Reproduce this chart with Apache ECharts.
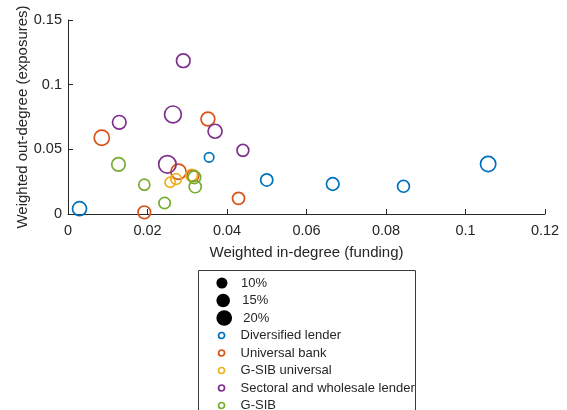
<!DOCTYPE html>
<html>
<head>
<meta charset="utf-8">
<script src="https://cdn.jsdelivr.net/npm/echarts@6/dist/echarts.min.js"></script>
<style>html,body{margin:0;padding:0;background:#fff;}#c{width:567px;height:410px;}</style>
</head>
<body>
<div id="c"></div>
<script>
// Categories and colours
const categories = ['Diversified lender', 'Universal bank', 'G-SIB universal', 'Sectoral and wholesale lender', 'G-SIB'];
const colors = ['#0072BD', '#D95319', '#EDB120', '#7E2F8E', '#77AC30'];
// Size legend entries (market share, %)
const sizeLabels = ['10%', '15%', '20%'];
const sizeValues = [10, 15, 20];
// Points: [weighted in-degree, weighted out-degree, share %]
const diversifiedLender = [[0.0029,0.0041,16],[0.0355,0.0438,7.4],[0.050,0.0263,12],[0.0666,0.0232,13],[0.0844,0.0214,11.5],[0.1057,0.0386,19]];
const universalBank = [[0.0085,0.059,19],[0.0352,0.0734,15.5],[0.0278,0.0327,19],[0.0314,0.0296,11.5],[0.0429,0.0121,12],[0.0192,0.0013,13]];
const gsibUniversal = [[0.0257,0.0245,8.5],[0.0272,0.027,9.5],[0.0311,0.030,11.5]];
const sectoralLender = [[0.029,0.1185,15],[0.0264,0.077,23],[0.0129,0.0709,15],[0.037,0.064,16],[0.044,0.0492,11.4],[0.025,0.0384,25]];
const gsib = [[0.0127,0.0384,15],[0.0192,0.0227,10],[0.0243,0.0085,10.5],[0.0318,0.0284,13],[0.032,0.0211,12]];
const groups = [diversifiedLender, universalBank, gsibUniversal, sectoralLender, gsib];
// Axis ticks
const xTicks = {min: 0, max: 0.12, interval: 0.02};
const yTicks = {min: 0, max: 0.15, interval: 0.05};

const K = 3.5;
const sizeOf = s => K * Math.sqrt(s);
const FONT = 'Liberation Sans';
const TXT = '#262626';

const series = [];
sizeLabels.forEach((n, i) => {
  series.push({name: n, type: 'scatter', data: [], itemStyle: {color: '#000', opacity: 1}});
});
groups.forEach((g, i) => {
  series.push({
    name: categories[i], type: 'scatter', data: g,
    symbol: 'circle',
    symbolSize: v => sizeOf(v[2]),
    itemStyle: {color: 'rgba(0,0,0,0)', borderColor: colors[i], borderWidth: 1.7, opacity: 1},
    emphasis: {disabled: true}
  });
});

const rowCenters = [283, 300.5, 318, 335.5, 353, 370.5, 388, 405.5];
const legends = [];
const ICON_CX = 221.7, TEXT_X = 240.7;
const iw = 2 * (TEXT_X - 5 - ICON_CX);
sizeLabels.forEach((n, i) => {
  const d = sizeOf(sizeValues[i]);
  legends.push({
    data: [{name: n, icon: 'circle', itemStyle: {color: '#000', opacity: 1}}],
    left: ICON_CX - iw / 2 + 8.7, top: rowCenters[i] - 8,
    itemWidth: iw, itemHeight: d, padding: 0, selectedMode: false,
    textStyle: {fontFamily: FONT, fontSize: 13, color: TXT, lineHeight: 16}
  });
});
categories.forEach((n, i) => {
  legends.push({
    data: [{name: n, icon: 'circle', itemStyle: {color: 'rgba(0,0,0,0)', borderColor: colors[i], borderWidth: 1.7, opacity: 1}}],
    left: ICON_CX - iw / 2 + 10, top: rowCenters[3 + i] - 8,
    itemWidth: iw, itemHeight: 6, padding: 0, selectedMode: false,
    textStyle: {fontFamily: FONT, fontSize: 13, color: TXT, lineHeight: 16}
  });
});

const chart = echarts.init(document.getElementById('c'), null, {renderer: 'canvas'});
chart.setOption({
  animation: false,
  backgroundColor: '#fff',
  grid: {left: 68, right: 22, top: 20, bottom: 196, containLabel: false},
  xAxis: {
    type: 'value', min: xTicks.min, max: xTicks.max, interval: xTicks.interval,
    name: 'Weighted in-degree (funding)', nameLocation: 'middle', nameGap: 31,
    nameMoveOverlap: false,
    nameTextStyle: {fontFamily: FONT, fontSize: 15, color: TXT},
    axisLine: {show: true, onZero: false, lineStyle: {color: TXT, width: 1}},
    axisTick: {show: true, inside: true, length: 5, lineStyle: {color: TXT}},
    axisLabel: {fontFamily: FONT, fontSize: 14.5, color: TXT, margin: 9},
    splitLine: {show: false}
  },
  yAxis: {
    type: 'value', min: yTicks.min, max: yTicks.max, interval: yTicks.interval,
    name: 'Weighted out-degree (exposures)', nameLocation: 'middle', nameGap: 38,
    nameMoveOverlap: false,
    nameTextStyle: {fontFamily: FONT, fontSize: 15, color: TXT},
    axisLine: {show: true, onZero: false, lineStyle: {color: TXT, width: 1}},
    axisTick: {show: true, inside: true, length: 5, lineStyle: {color: TXT}},
    axisLabel: {fontFamily: FONT, fontSize: 14.5, color: TXT, margin: 6},
    splitLine: {show: false}
  },
  legend: legends,
  graphic: [{
    type: 'rect', shape: {x: 198.5, y: 270.5, width: 217, height: 200},
    style: {fill: 'none', stroke: '#3a3a3a', lineWidth: 1}, z: -1, silent: true
  }],
  series: series
});
</script>
</body>
</html>
